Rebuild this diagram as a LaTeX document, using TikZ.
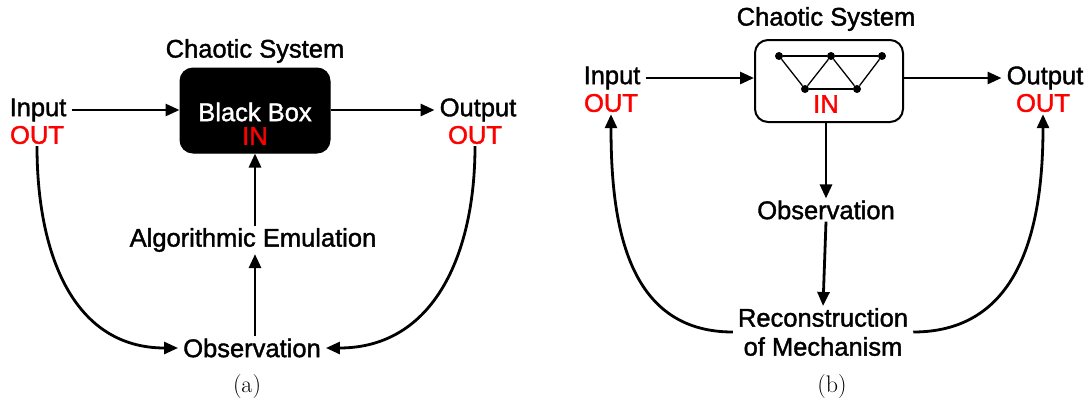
\documentclass[tikz,border=0pt]{standalone}
\usepackage{fontspec}
\newfontfamily\hv[FakeBold=1.5]{Liberation Sans}
\usetikzlibrary{arrows.meta}
\definecolor{outred}{RGB}{255,0,0}
\begin{document}
\begin{tikzpicture}[x=1pt,y=-1pt,
  lbl/.style={font=\hv\fontsize{25.5}{29}\selectfont, inner ysep=2pt, inner xsep=5pt},
  redlbl/.style={lbl, text=outred},
  arr/.style={line width=2.8pt, -{Triangle[length=14pt,width=12pt]}},
  dot/.style={circle, fill=black, inner sep=0pt, minimum size=8pt},
  net/.style={line width=1.3pt},
  captxt/.style={font=\fontsize{24}{28}\selectfont}
]
\useasboundingbox (0,0) rectangle (1091,405);

% ---------- (a) black-box view ----------
\node[lbl] (aTitle) at (255,51) {Chaotic System};
\node[draw, fill=black, rounded corners=13pt, minimum width=150pt,
      minimum height=85pt, line width=1pt] (aBox) at (255,110.5) {};
\node[lbl, text=white] (aBB) at (255,112) {Black Box};
\node[redlbl] (aIN) at (255,136) {IN};
\node[lbl] (aIn) at (38,110) {Input};
\node[redlbl] (aInOut) at (37,135) {OUT};
\node[lbl] (aOut) at (478,110) {Output};
\node[redlbl] (aOutOut) at (475,135) {OUT};
\node[lbl] (aAlg) at (253,240) {Algorithmic Emulation};
\node[lbl] (aObs) at (252,348) {Observation};

\draw[arr] (aIn.east) -- (aIn.east -| aBox.west);
\draw[arr] (aBox.east |- aOut) -- (aOut.west);
\draw[arr] (aBox.south |- aAlg.north) -- (aBox.south);
\draw[arr] (aBox.south |- aObs.north) -- (aBox.south |- aAlg.south);
\draw[arr] (aInOut.south) to[out=-90, in=180, looseness=1.1] (aObs.west);
\draw[arr] (aOutOut.south) to[out=-90, in=0, looseness=1.1] (aObs.east);

\node[captxt] (capA) at (247,387) {(a)};

% ---------- (b) mechanism view ----------
\node[lbl] (bTitle) at (826,19) {Chaotic System};
\node[draw, fill=white, rounded corners=13pt, line width=2pt,
      minimum width=148pt, minimum height=82pt] (bBox) at (829,81) {};
\node[dot] (n1) at (779,56) {};
\node[dot] (n2) at (831,56) {};
\node[dot] (n3) at (882,56) {};
\node[dot] (n4) at (805,89) {};
\node[dot] (n5) at (857,89) {};
\draw[net] (n1) -- (n2) -- (n3);
\draw[net] (n1) -- (n4) -- (n2) -- (n5) -- (n3);
\draw[net] (n4) -- (n5);
\node[redlbl] (bIN) at (826,104) {IN};

\node[lbl] (bIn) at (612,78) {Input};
\node[redlbl] (bInOut) at (611,103) {OUT};
\node[lbl] (bOut) at (1045,78) {Output};
\node[redlbl] (bOutOut) at (1043,103) {OUT};
\node[lbl] (bObs) at (826,210) {Observation};
\node[lbl, align=center] (bRec) at (823,332) {Reconstruction\\of Mechanism};

\draw[arr] (bIn.east) -- (bIn.east -| bBox.west);
\draw[arr] (bBox.east |- bOut) -- (bOut.west);
\draw[arr] (bObs.north |- bBox.south) -- (bObs.north);
\draw[arr] (bObs.south) -- (bRec.north);
\draw[arr] (bRec.west) to[out=180, in=-90, looseness=1.1] (bInOut.south);
\draw[arr] (bRec.east) to[out=0, in=-90, looseness=1.1] (bOutOut.south);

\node[captxt] (capB) at (832,387) {(b)};
\end{tikzpicture}
\end{document}
